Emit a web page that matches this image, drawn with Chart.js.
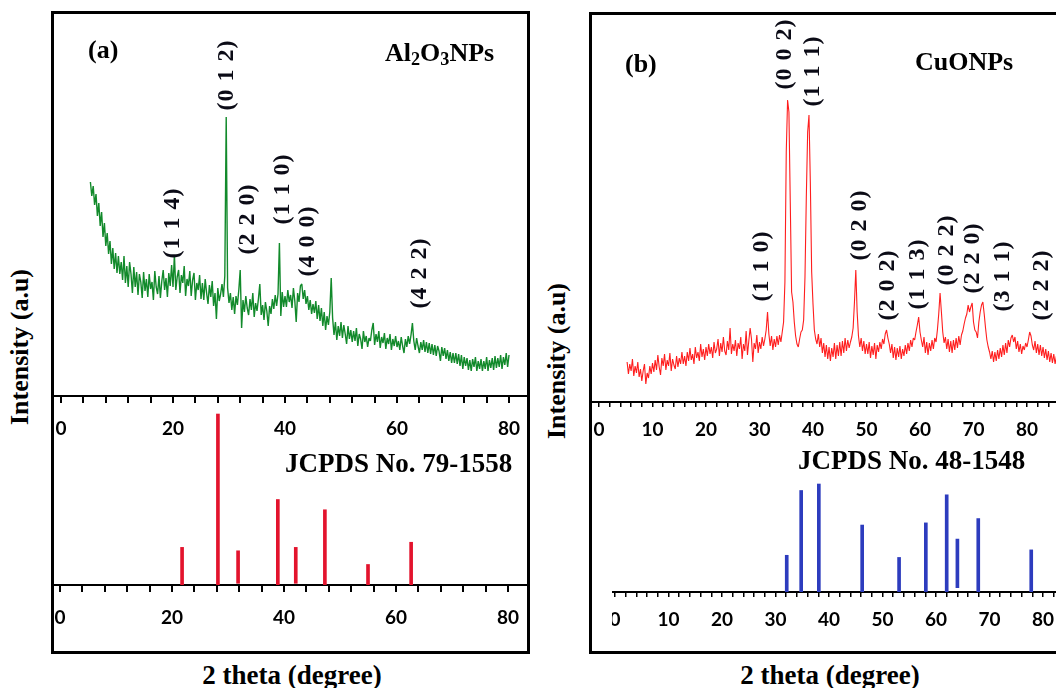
<!DOCTYPE html>
<html>
<head>
<meta charset="utf-8">
<script src="https://cdn.jsdelivr.net/npm/chart.js@4.4.1/dist/chart.umd.min.js"></script>
<style>
html, body { margin: 0; padding: 0; background: #fff; }
body { width: 1056px; height: 688px; position: relative; overflow: hidden;
       font-family: "Liberation Serif", "Times New Roman", serif; font-weight: bold; color: #000; }
.box { position: absolute; border: 3px solid #000; box-sizing: border-box; }
canvas { position: absolute; }
.txt { position: absolute; line-height: 1; white-space: nowrap; }
.title { font-size: 26px; }
.ref { font-size: 27px; }
.xlab { font-size: 27px; transform: translateX(-50%); }
.ylab { font-size: 26px; transform: translate(-50%, -50%) rotate(-90deg); }
.sub { font-size: 70%; position: relative; top: 0.22em; }
</style>
</head>
<body>
<div class="box" style="left:51px;top:11px;width:479px;height:643px"></div>
<div class="box" style="left:589px;top:12px;width:520px;height:642px"></div>

<canvas id="xrd-a" width="473" height="426" style="left:54px;top:14px"></canvas>
<canvas id="ref-a" width="473" height="229" style="left:54px;top:400px"></canvas>
<canvas id="xrd-b" width="464" height="431" style="left:592px;top:15px"></canvas>
<canvas id="ref-b" width="444" height="236" style="left:612px;top:400px"></canvas>

<div class="txt title" style="left:88px;top:37px">(a)</div>
<div class="txt title" style="left:385px;top:40px">Al<span class="sub">2</span>O<span class="sub">3</span>NPs</div>
<div class="txt title" style="left:625px;top:51px">(b)</div>
<div class="txt title" style="left:915px;top:49px">CuONPs</div>
<div class="txt ref" style="left:285px;top:450px">JCPDS No. 79-1558</div>
<div class="txt ref" style="left:798px;top:447px">JCPDS No. 48-1548</div>
<div class="txt xlab" style="left:292px;top:662px">2 theta (degree)</div>
<div class="txt xlab" style="left:830px;top:662px">2 theta (degree)</div>
<div class="txt ylab" style="left:20px;top:347px">Intensity (a.u)</div>
<div class="txt ylab" style="left:557px;top:361px">Intensity (a.u)</div>

<script>
"use strict";

// measured patterns, 2theta grid start / step (degree)
const alu_start = 5.25;
const alu_step = 0.25;
const alu_counts = [
    214, 200, 210, 191, 202, 180, 193, 170, 184, 159, 173, 150, 163, 142, 155, 132, 148, 127, 143, 123,
    140, 122, 134, 116, 140, 113, 130, 109, 134, 122, 103, 129, 109, 124, 101, 122, 114, 98, 124, 105,
    117, 99, 122, 107, 114, 96, 125, 109, 102, 120, 98, 115, 126, 106, 118, 99, 123, 110, 131, 109,
    141, 106, 119, 126, 103, 121, 113, 130, 100, 117, 110, 125, 100, 116, 123, 96, 113, 106, 121, 97,
    113, 96, 117, 103, 92, 111, 99, 115, 90, 103, 77, 108, 95, 102, 112, 99, 120, 279, 108, 93,
    103, 86, 99, 82, 100, 91, 106, 126, 68, 96, 84, 100, 88, 81, 97, 86, 103, 79, 93, 85,
    97, 112, 81, 91, 76, 94, 85, 70, 90, 82, 97, 87, 101, 90, 102, 153, 80, 104, 89, 100,
    89, 106, 94, 101, 88, 108, 95, 74, 103, 94, 110, 112, 97, 106, 92, 100, 86, 96, 82, 92,
    83, 95, 77, 91, 75, 88, 70, 84, 66, 80, 71, 84, 118, 78, 61, 74, 56, 70, 60, 74,
    58, 71, 62, 52, 70, 57, 66, 54, 65, 55, 68, 50, 62, 57, 47, 65, 54, 60, 49, 58,
    55, 66, 73, 51, 62, 54, 65, 48, 59, 53, 63, 47, 58, 52, 62, 46, 57, 50, 60, 49,
    55, 46, 59, 50, 43, 57, 49, 60, 52, 61, 73, 55, 46, 58, 50, 43, 54, 46, 56, 44,
    54, 43, 53, 42, 52, 41, 51, 40, 50, 45, 35, 49, 40, 48, 37, 46, 35, 44, 33, 43,
    33, 43, 32, 42, 30, 41, 27, 39, 30, 38, 26, 36, 25, 37, 29, 39, 25, 35, 27, 37,
    25, 35, 27, 39, 25, 36, 28, 38, 26, 40, 28, 38, 29, 41, 27, 39, 31, 43, 29, 41
];

const cuo_start = 5.25;
const cuo_step = 0.25;
const cuo_counts = [
    40, 28, 38, 31, 43, 26, 36, 29, 40, 25, 33, 21, 31, 38, 18, 29, 24, 36, 28, 39,
    30, 42, 32, 47, 35, 27, 44, 36, 48, 32, 42, 36, 49, 31, 43, 37, 33, 46, 35, 44,
    38, 50, 38, 46, 36, 50, 41, 54, 42, 48, 38, 55, 44, 50, 41, 58, 45, 53, 42, 55,
    46, 58, 48, 55, 44, 60, 49, 53, 63, 46, 59, 50, 65, 51, 47, 61, 52, 74, 48, 58,
    51, 62, 46, 59, 53, 65, 43, 58, 51, 71, 47, 61, 74, 63, 40, 59, 53, 67, 49, 60,
    53, 65, 56, 63, 72, 90, 68, 56, 66, 52, 63, 55, 66, 57, 67, 60, 70, 80, 120, 250,
    302, 290, 200, 110, 100, 80, 66, 58, 55, 63, 70, 72, 82, 125, 205, 270, 287, 220, 130, 98,
    72, 63, 58, 68, 55, 64, 49, 59, 45, 57, 43, 55, 41, 54, 45, 59, 43, 57, 46, 60,
    46, 61, 49, 64, 51, 62, 54, 60, 65, 74, 100, 132, 90, 66, 55, 64, 51, 61, 48, 58,
    48, 60, 44, 56, 47, 59, 43, 57, 50, 60, 53, 63, 58, 68, 72, 64, 58, 49, 58, 44,
    55, 42, 54, 45, 56, 43, 53, 46, 57, 48, 59, 51, 62, 55, 64, 62, 70, 77, 85, 70,
    62, 55, 65, 49, 60, 47, 59, 51, 62, 53, 64, 60, 72, 88, 109, 90, 70, 59, 65, 53,
    63, 50, 61, 49, 62, 52, 64, 54, 66, 57, 67, 71, 78, 84, 88, 97, 90, 95, 99, 80,
    72, 70, 64, 80, 90, 97, 100, 88, 74, 62, 55, 50, 43, 51, 40, 50, 41, 52, 43, 54,
    45, 57, 47, 59, 49, 62, 55, 64, 67, 60, 65, 53, 61, 50, 58, 48, 56, 52, 59, 55,
    62, 70, 66, 57, 52, 61, 49, 58, 47, 57, 46, 55, 44, 53, 42, 51, 40, 49, 39, 48, 38, 46
];

// reference cards (relative intensity %)
const alu_ref_2theta = [21.8, 28.2, 31.8, 38.9, 42.1, 47.3, 55.0, 62.7];
const alu_ref_int = [22, 100, 20, 50, 22, 44, 12, 25];
const alu_ref_base = [0, 0, 1, 0, 1, 0, 0, 0];

const cuo_ref_2theta = [32.1, 34.8, 38.1, 46.2, 53.1, 58.1, 62.0, 64.0, 67.9, 77.8];
const cuo_ref_int = [34, 94, 100, 62, 32, 64, 90, 49, 68, 39];
const cuo_ref_base = [0, 0, 0, 0, 0, 0, 0, 4, 0, 0];

// hkl labels
const alu_hkl = ['(1 1 4)', '(0 1 2)', '(2 2 0)', '(1 1 0)', '(4 0 0)', '(4 2 2)'];
const alu_hkl_2theta = [20.0, 29.6, 33.4, 39.6, 44.1, 64.1];
const alu_hkl_level = [173, 321, 177, 207, 155, 123];

const cuo_hkl = ['(1 1 0)', '(0 0 2)', '(1 1 1)', '(0 2 0)', '(2 0 2)', '(1 1 3)', '(0 2 2)', '(2 2 0)', '(3 1 1)', '(2 2 2)'];
const cuo_hkl_2theta = [30.5, 34.8, 40.0, 48.8, 54.0, 59.6, 65.0, 69.9, 75.5, 82.8];
const cuo_hkl_level = [136, 348, 331, 177, 117, 128, 152, 144, 126, 117];

// tick marks
const alu_ticks = [0, 4, 8, 12, 16, 20, 24, 28, 32, 36, 40, 44, 48, 52, 56, 60, 64, 68, 72, 76, 80];
const alu_label_every = 20;
const cuo_ticks = [0, 2, 4, 6, 8, 10, 12, 14, 16, 18, 20, 22, 24, 26, 28, 30, 32, 34, 36, 38, 40, 42,
                   44, 46, 48, 50, 52, 54, 56, 58, 60, 62, 64, 66, 68, 70, 72, 74, 76, 78, 80, 82, 84];
const cuo_label_every = 10;

const hkl_labels = {
    id: 'hkl_labels',
    afterDatasetsDraw(chart, args, opts) {
        const ctx = chart.ctx;
        const xs = chart.scales.x;
        const ys = chart.scales.y;
        ctx.save();
        ctx.font = 'bold 24px "Liberation Serif"';
        ctx.fillStyle = '#0b0b16';
        ctx.textAlign = 'center';
        ctx.textBaseline = 'middle';
        ctx.letterSpacing = '1px';
        opts.text.forEach((t, i) => {
            ctx.save();
            ctx.translate(xs.getPixelForValue(opts.at[i]), ys.getPixelForValue(opts.level[i]));
            ctx.rotate(-Math.PI / 2);
            ctx.fillText(t, 0, 0);
            ctx.restore();
        });
        ctx.restore();
    }
};

function x_axis(x_min, x_max, tick_values, label_every, tick_len, tick_pad, tick_width) {
    return {
        type: 'linear',
        position: 'bottom',
        min: x_min,
        max: x_max,
        offset: false,
        afterBuildTicks: (axis) => {
            axis.ticks = tick_values.filter((v) => v <= x_max).map((v) => ({ value: v }));
        },
        afterFit: (axis) => {
            axis.height = 44;
            axis.paddingLeft = 0;
            axis.paddingRight = 0;
        },
        border: { display: true, color: '#000', width: 2 },
        grid: { offset: false, drawOnChartArea: false, drawTicks: true, tickLength: tick_len, color: '#000', lineWidth: tick_width },
        ticks: {
            autoSkip: false,
            maxRotation: 0,
            padding: tick_pad,
            color: '#000',
            font: { family: 'Lato', weight: 'bold', size: 19 },
            callback: (v) => (v % label_every === 0 ? String(v) : '')
        }
    };
}

function pattern_chart(canvas_id, start, step, counts, color, line_width, axis, y_max, hkl) {
    const points = counts.map((c, i) => ({ x: start + i * step, y: c }));
    return new Chart(document.getElementById(canvas_id), {
        type: 'line',
        data: {
            datasets: [{
                data: points,
                borderColor: color,
                borderWidth: line_width,
                borderJoinStyle: 'bevel',
                pointRadius: 0,
                tension: 0,
                fill: false
            }]
        },
        options: {
            responsive: false,
            animation: false,
            events: [],
            layout: { padding: 0 },
            plugins: { legend: { display: false }, tooltip: { enabled: false }, hkl_labels: hkl },
            scales: { x: axis, y: { display: false, min: 0, max: y_max } }
        },
        plugins: [hkl_labels]
    });
}

function stick_chart(canvas_id, two_theta, rel_int, base, color, axis, y_max) {
    return new Chart(document.getElementById(canvas_id), {
        type: 'bar',
        data: {
            datasets: [{
                data: two_theta.map((t, i) => ({ x: t, y: [base[i], rel_int[i]] })),
                backgroundColor: color,
                borderWidth: 0,
                barThickness: 3
            }]
        },
        options: {
            responsive: false,
            animation: false,
            events: [],
            layout: { padding: 0 },
            plugins: { legend: { display: false }, tooltip: { enabled: false } },
            scales: { x: axis, y: { display: false, min: 0, max: y_max } }
        }
    });
}

pattern_chart('xrd-a', alu_start, alu_step, alu_counts, '#128a2b', 1.4,
    x_axis(-1.25, 83.21, alu_ticks, alu_label_every, 7, 14, 2), 382,
    { text: alu_hkl, at: alu_hkl_2theta, level: alu_hkl_level });

stick_chart('ref-a', alu_ref_2theta, alu_ref_int, alu_ref_base, '#e3132d',
    x_axis(-1.07, 83.39, alu_ticks, alu_label_every, 7, 14, 2), 108.2);

pattern_chart('xrd-b', cuo_start, cuo_step, cuo_counts, '#ff1e1e', 1.1,
    x_axis(-1.31, 85.42, cuo_ticks, cuo_label_every, 5, 11, 1.5), 387,
    { text: cuo_hkl, at: cuo_hkl_2theta, level: cuo_hkl_level });

stick_chart('ref-b', cuo_ref_2theta, cuo_ref_int, cuo_ref_base, '#2d3cbe',
    x_axis(-0.56, 82.43, cuo_ticks, cuo_label_every, 5, 11, 1.5), 177.8);
</script>
</body>
</html>
